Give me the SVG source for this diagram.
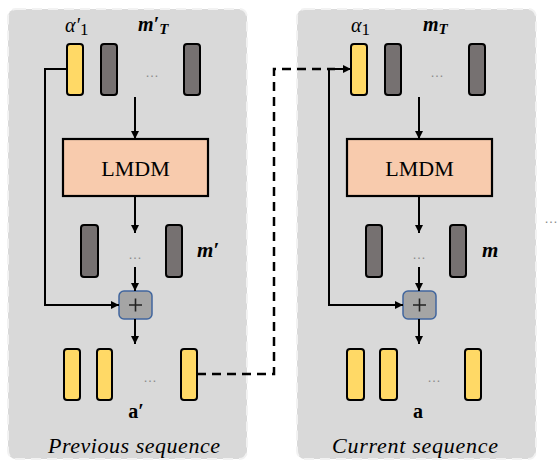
<svg xmlns="http://www.w3.org/2000/svg" width="557" height="463" viewBox="0 0 557 463">
<style>
.panel{fill:#D9D9D9;stroke:#F2F2F2;stroke-width:2;stroke-dasharray:10 6}
.y{fill:#FFD966;stroke:#000;stroke-width:2}
.d{fill:#767171;stroke:#000;stroke-width:2}
.box{fill:#F8CBAD;stroke:#000;stroke-width:2.2}
.plus{fill:#A5A5A5;stroke:#41669E;stroke-width:1.5}
.ln{fill:none;stroke:#000;stroke-width:2}
.dash{fill:none;stroke:#000;stroke-width:2.5;stroke-dasharray:9 6}
.t{font-family:"Liberation Serif",serif;fill:#000}
.dots{font-family:"Liberation Sans",sans-serif;font-size:14px;fill:#8C8C8C;text-anchor:middle}
</style>
<defs>
<marker id="ah" viewBox="0 0 10 10" refX="10" refY="5" markerWidth="8" markerHeight="8" orient="auto" markerUnits="userSpaceOnUse">
<path d="M0,0 L10,5 L0,10 z" fill="#000"/>
</marker>
</defs>

<g id="panel-prev">
<rect class="panel" x="8" y="9" width="239" height="450" rx="8"/>
<text class="t" x="134" y="453" font-size="22" font-style="italic" text-anchor="middle" textLength="172">Previous sequence</text>
</g>
<g id="panel-cur">
<rect class="panel" x="297" y="9" width="239" height="450" rx="8"/>
<text class="t" x="415" y="453" font-size="22" font-style="italic" text-anchor="middle" textLength="166">Current sequence</text>
</g>

<g id="prev-input">
<rect class="y" x="67" y="44" width="16" height="51" rx="3"/>
<rect class="d" x="101" y="44" width="16" height="51" rx="3"/>
<text class="dots" x="152" y="77">…</text>
<rect class="d" x="184" y="44" width="16" height="51" rx="3"/>
<text class="t" x="65" y="32" font-size="20" font-style="italic">α′<tspan font-style="normal" font-size="17" dy="3">1</tspan></text>
<text class="t" x="138" y="31" font-size="20" font-style="italic" font-weight="bold">m′<tspan font-size="15" dy="3">T</tspan></text>
</g>
<g id="prev-lmdm">
<rect class="box" x="63" y="139" width="145" height="57"/>
<text class="t" x="135.5" y="176" font-size="22" text-anchor="middle">LMDM</text>
</g>
<g id="prev-m">
<rect class="d" x="81" y="225" width="17" height="52" rx="3"/>
<text class="dots" x="135" y="259">…</text>
<rect class="d" x="166" y="225" width="16" height="52" rx="3"/>
<text class="t" x="197" y="257" font-size="21" font-style="italic" font-weight="bold">m′</text>
</g>
<g id="prev-plus">
<rect class="plus" x="119" y="291" width="33" height="28" rx="5"/>
<path d="M129,305 H142 M135.5,298.5 V311.5" stroke="#222" stroke-width="1.6"/>
</g>
<g id="prev-a">
<rect class="y" x="64" y="349" width="16" height="51" rx="3"/>
<rect class="y" x="97" y="349" width="15" height="51" rx="3"/>
<text class="dots" x="150" y="382">…</text>
<rect class="y" x="181" y="349" width="16" height="51" rx="3"/>
<text class="t" x="136" y="418" font-size="20" font-weight="bold" text-anchor="middle">a′</text>
</g>

<g id="cur-input">
<rect class="y" x="351" y="44" width="16" height="51" rx="3"/>
<rect class="d" x="385" y="44" width="16" height="51" rx="3"/>
<text class="dots" x="437" y="77">…</text>
<rect class="d" x="469" y="44" width="16" height="51" rx="3"/>
<text class="t" x="351" y="32" font-size="20" font-style="italic">α<tspan font-style="normal" font-size="17" dy="3">1</tspan></text>
<text class="t" x="423" y="31" font-size="20" font-style="italic" font-weight="bold">m<tspan font-size="15" dy="3">T</tspan></text>
</g>
<g id="cur-lmdm">
<rect class="box" x="347" y="139" width="145" height="57"/>
<text class="t" x="419.5" y="176" font-size="22" text-anchor="middle">LMDM</text>
</g>
<g id="cur-m">
<rect class="d" x="366" y="225" width="16" height="52" rx="3"/>
<text class="dots" x="419" y="259">…</text>
<rect class="d" x="450" y="225" width="16" height="52" rx="3"/>
<text class="t" x="482" y="257" font-size="21" font-style="italic" font-weight="bold">m</text>
</g>
<g id="cur-plus">
<rect class="plus" x="403" y="291" width="33" height="28" rx="5"/>
<path d="M413,305 H426 M419.5,298.5 V311.5" stroke="#222" stroke-width="1.6"/>
</g>
<g id="cur-a">
<rect class="y" x="347" y="349" width="17" height="51" rx="3"/>
<rect class="y" x="380" y="349" width="17" height="51" rx="3"/>
<text class="dots" x="434" y="382">…</text>
<rect class="y" x="465" y="349" width="16" height="51" rx="3"/>
<text class="t" x="418" y="418" font-size="20" font-weight="bold" text-anchor="middle">a</text>
</g>

<g id="more">
<text class="dots" x="551" y="223">…</text>
</g>

<g id="connectors">
<path class="ln" d="M135,97 V139" marker-end="url(#ah)"/>
<path class="ln" d="M135,196 V233" marker-end="url(#ah)"/>
<path class="ln" d="M135,267 V291" marker-end="url(#ah)"/>
<path class="ln" d="M135,319 V344" marker-end="url(#ah)"/>
<path class="ln" d="M67,69 H45 V305 H119" marker-end="url(#ah)"/>
<path class="ln" d="M419,97 V139" marker-end="url(#ah)"/>
<path class="ln" d="M419,196 V233" marker-end="url(#ah)"/>
<path class="ln" d="M419,267 V291" marker-end="url(#ah)"/>
<path class="ln" d="M419,319 V344" marker-end="url(#ah)"/>
<path class="ln" d="M329,69 V305 H403" marker-end="url(#ah)"/>
<path class="ln" d="M329,69 H351" marker-end="url(#ah)"/>
<path class="dash" d="M197,374 H274 V69 H335"/>
</g>
</svg>
